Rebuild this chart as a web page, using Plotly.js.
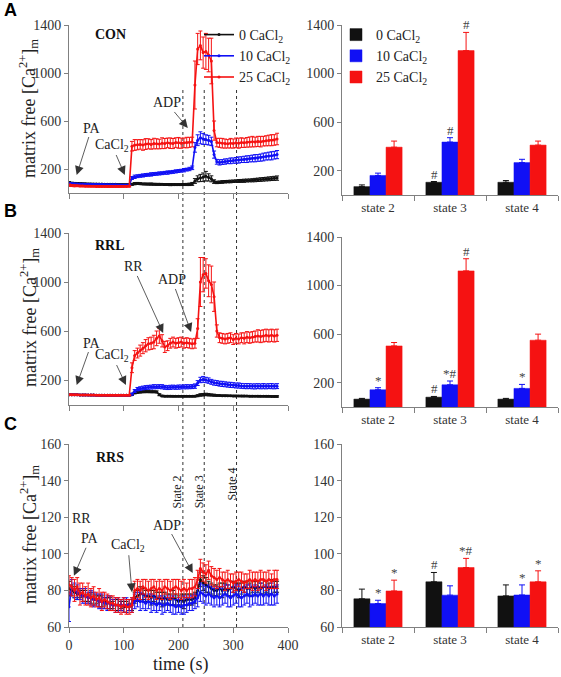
<!DOCTYPE html>
<html><head><meta charset="utf-8">
<script src="https://cdn.plot.ly/plotly-3.0.1.min.js"></script>
<style>html,body{margin:0;padding:0;background:#fff}#chart{width:561px;height:677px}</style>
</head><body><div id="chart"></div>
<script>
// ---------- data ----------
const time = [0,5,10,15,20,25,30,35,40,45,50,55,60,65,70,75,80,85,90,95,100,105,110,115,120,125,130,135,140,145,150,155,160,165,170,175,180,185,190,195,200,205,210,215,220,225,230,235,240,245,250,255,260,265,270,275,280,285,290,295,300,305,310,315,320,325,330,335,340,345,350,355,360,365,370,375,380];

// Panel A (CON)
const aBlack = [85,82,80,80,79,78,77,76,76,75,75,74,74,73,73,72,72,72,71,71,70,70,70,
72,78,80,78,76,75,74,74,73,72,72,72,71,71,70,70,70,70,70,71,71,72,
76,100,118,125,132,140,130,118,95,
88,90,92,94,95,96,98,99,100,101,102,104,105,106,108,110,112,114,116,118,120,122,124];
const aBlackErr = [10,8,8,6,6,6,5,5,5,5,5,5,5,5,5,5,5,5,5,5,5,5,5,
8,9,8,8,7,8,8,9,8,8,8,7,8,8,9,8,8,8,8,8,9,10,
12,20,25,30,35,40,30,25,15,
10,10,11,10,10,11,10,10,12,12,13,12,12,13,14,14,15,15,15,16,16,17,18];
const aBlue = [80,78,76,75,75,74,73,72,72,71,71,70,70,69,69,68,68,68,67,67,66,66,66,
125,135,140,143,146,150,152,155,158,160,163,165,168,170,173,176,180,183,186,190,195,200,
210,380,440,460,450,445,440,430,320,
260,255,258,262,265,268,270,272,275,278,280,282,285,288,290,292,295,300,305,308,310,315,320];
const aBlueErr = [8,6,6,5,5,5,5,5,5,5,5,5,5,5,5,5,5,5,5,5,5,5,5,
12,14,12,12,13,12,12,14,12,12,13,12,12,14,12,12,13,12,12,14,12,14,
15,40,45,50,45,40,40,35,30,
20,22,20,22,20,24,22,24,26,24,26,28,26,28,30,28,30,32,30,32,34,32,34];
const aRed = [65,62,60,60,58,58,57,57,56,56,55,55,55,55,54,54,54,54,54,54,55,55,56,
390,400,402,405,400,408,410,405,412,410,408,415,412,418,415,412,420,418,415,418,420,422,
425,900,1200,1230,1170,1180,1150,1100,520,
420,418,415,412,410,415,412,418,415,420,418,422,425,428,425,430,428,432,435,438,440,442,450];
const aRedErr = [10,8,8,6,6,6,6,6,6,6,6,6,6,6,6,6,6,6,6,6,6,6,6,
40,45,42,40,44,45,42,40,44,42,40,45,42,40,44,42,40,45,42,40,44,42,
40,200,130,120,130,150,140,190,80,
35,38,40,38,35,40,38,40,42,40,38,40,42,44,40,42,44,40,42,44,46,44,48];

// Panel B (RRL)
const bBlack = [80,80,79,79,78,78,78,77,77,77,76,76,76,76,75,75,75,75,75,75,75,75,75,
80,95,100,102,104,105,105,104,104,103,80,70,68,68,68,67,67,67,67,67,67,67,
67,68,72,78,80,82,80,78,76,
74,73,72,72,71,71,70,70,70,69,69,69,68,68,68,68,67,67,67,67,66,66,66];
const bBlackErr = [6,5,5,5,4,5,5,4,5,5,4,5,5,4,5,5,4,5,5,4,5,5,5,
6,8,8,8,8,8,8,8,8,8,8,6,6,6,6,6,6,6,6,6,6,6,
6,6,8,10,10,10,10,8,8,
6,6,5,6,6,5,6,6,5,6,6,5,6,6,5,6,6,5,6,6,5,6,6];
const bBlue = [80,80,79,79,78,78,78,77,77,77,76,76,76,76,75,75,75,75,75,75,75,75,75,
85,110,125,130,135,138,140,142,145,145,146,145,140,138,140,142,140,142,143,144,145,145,
146,150,175,200,205,200,195,185,178,
175,170,168,165,162,160,158,155,155,152,150,150,150,148,148,150,148,150,148,150,150,148,150];
const bBlueErr = [6,5,5,5,4,5,5,4,5,5,4,5,5,4,5,5,4,5,5,4,5,5,5,
8,12,14,15,15,16,16,16,17,16,16,17,16,16,17,16,16,17,16,16,17,16,
16,18,20,22,24,22,22,20,20,
20,20,21,20,20,21,20,20,21,20,20,21,20,20,21,20,20,21,20,20,21,20,20];
const bRed = [80,80,79,79,78,78,78,77,77,77,76,76,76,76,75,75,75,75,75,75,75,75,76,
300,400,420,440,460,480,495,500,510,540,560,520,470,480,500,510,500,505,510,500,505,500,
495,500,620,1000,1060,1070,1010,980,880,
600,545,540,535,540,545,530,540,535,545,540,550,545,550,555,560,555,560,565,560,565,560,565];
const bRedErr = [6,5,5,5,4,5,5,4,5,5,4,5,5,4,5,5,4,5,5,4,5,5,5,
40,40,40,45,45,50,50,50,55,60,60,50,45,40,40,40,40,40,40,40,40,40,
40,40,80,200,140,120,130,150,120,
50,40,40,40,40,40,40,40,40,40,45,45,45,45,45,50,50,50,50,50,50,50,50];

// Panel C (RRS)
const cBlack = [81,80,79,78,78,77,77,76,76,75,75,74,74,74,73,73,72,72,72,72,71,71,71,
72,76,77,78,78,77,77,76,77,76,76,75,76,75,75,76,75,74,75,74,75,75,
75,76,80,86,84,83,82,81,80,
80,81,80,81,80,81,82,81,80,81,82,81,81,82,81,82,81,82,82,81,82,82,82];
const cBlackErr = [4,3,3,3,2,3,3,2,3,3,2,3,3,2,3,3,2,3,3,2,3,3,2,
3,3,3,4,3,3,3,4,3,3,3,4,3,3,3,4,3,3,3,4,3,3,
3,3,3,4,4,4,3,3,3,
3,3,4,3,3,4,3,3,4,3,3,4,3,3,4,3,3,4,3,3,4,3,3];
const cBlue = [71,82,80,79,78,77,77,76,76,75,75,74,74,73,73,73,72,72,72,72,72,72,72,
72,74,75,74,74,73,74,73,73,72,73,72,72,73,72,72,71,72,71,72,72,73,
73,74,76,79,78,77,78,77,76,
77,76,77,78,77,76,77,78,77,76,77,78,77,77,78,77,78,77,78,77,78,77,78];
const cBlueErr = [8,4,4,4,3,4,4,3,4,4,3,4,4,3,4,4,3,4,4,3,4,4,3,
4,4,4,5,4,4,4,5,4,4,4,5,4,4,4,5,4,4,4,5,4,4,
4,4,5,5,5,5,5,5,5,
5,5,5,5,6,5,5,5,6,5,5,5,6,5,5,5,6,5,5,5,6,5,5];
const cRed = [83,82,80,82,78,79,77,78,76,77,75,76,74,75,74,73,73,72,72,71,72,71,71,
72,80,81,80,82,81,80,81,82,80,81,80,82,81,80,81,82,81,80,81,80,81,
81,82,86,92,90,89,91,88,87,
86,87,86,85,86,85,84,85,86,85,84,85,86,85,86,85,86,86,85,86,85,86,86];
const cRedErr = [5,5,6,5,6,5,5,6,5,5,4,5,5,4,4,4,4,4,4,4,4,4,4,
4,5,5,5,4,5,5,5,4,5,5,5,4,5,5,5,4,5,5,5,4,5,
5,5,5,5,5,5,5,5,5,
5,5,4,5,5,4,5,5,4,5,5,4,5,5,4,5,5,4,5,5,4,5,5];

// Bar panels
const states = ['state 2','state 3','state 4'];
const barA_black = [69,105,105], errA_black = [14,6,14], sigA_black = ['','#',''];
const barA_blue  = [161,436,267], errA_blue = [19,36,27], sigA_blue = ['','#',''];
const barA_red   = [394,1189,411], errA_red = [50,150,33], sigA_red = ['','#',''];
const barB_black = [65,81,65], errB_black = [6,6,6], sigB_black = ['','#',''];
const barB_blue  = [142,183,153], errB_blue = [17,31,33], sigB_blue = ['*','*#','*'];
const barB_red   = [503,1121,550], errB_red = [28,100,50], sigB_red = ['','#',''];
const barC_black = [75.4,84.7,77], errC_black = [5.3,5.1,6], sigC_black = ['','#',''];
const barC_blue  = [72.8,77.4,77.5], errC_blue = [1.8,5.1,5.5], sigC_blue = ['*','','*'];
const barC_red   = [79.7,92.5,84.7], errC_red = [5.9,5,6], sigC_red = ['*','*#','*'];

const seriesNames = ['0 CaCl<sub>2</sub>','10 CaCl<sub>2</sub>','25 CaCl<sub>2</sub>'];
const tickBig = [200,600,1000,1400];
const tickSmall = [60,80,100,120,140,160];
const tickTime = [0,100,200,300,400];
const stateLines = [208,247,306];

// ---------- layout helpers ----------
const W = 561, H = 677;
const fx = p => p / W, fy = p => 1 - p / H;
const COLORS = ['#111111','#1010f5','#f51212'];
const SERIF = 'Times New Roman';

const traces = [];
function lineTraces(ax, ay, vals, errs, showLeg) {
  vals.forEach((v, k) => {
    traces.push({
      type: 'scatter', mode: 'lines+markers', x: time, y: v,
      xaxis: ax, yaxis: ay, name: seriesNames[k], showlegend: showLeg, legend: 'legend',
      line: {color: COLORS[k], width: 1.6}, marker: {color: COLORS[k], size: 3},
      error_y: {type: 'data', array: errs[k], color: COLORS[k], thickness: 1, width: 2}
    });
  });
}
function barTraces(ax, ay, vals, errs, showLeg) {
  vals.forEach((v, k) => {
    traces.push({
      type: 'bar', x: states, y: v, xaxis: ax, yaxis: ay, name: seriesNames[k],
      showlegend: showLeg, legend: 'legend2',
      marker: {color: COLORS[k], line: {color: COLORS[k], width: 0.5}},
      error_y: {type: 'data', symmetric: false, array: errs[k], arrayminus: [0,0,0], color: COLORS[k], thickness: 1, width: 3}
    });
  });
}
lineTraces('x', 'y', [aBlack, aBlue, aRed], [aBlackErr, aBlueErr, aRedErr], true);
lineTraces('x3', 'y3', [bBlack, bBlue, bRed], [bBlackErr, bBlueErr, bRedErr], false);
lineTraces('x5', 'y5', [cBlack, cBlue, cRed], [cBlackErr, cBlueErr, cRedErr], false);
barTraces('x2', 'y2', [barA_black, barA_blue, barA_red], [errA_black, errA_blue, errA_red], true);
barTraces('x4', 'y4', [barB_black, barB_blue, barB_red], [errB_black, errB_blue, errB_red], false);
barTraces('x6', 'y6', [barC_black, barC_blue, barC_red], [errC_black, errC_blue, errC_red], false);

function base(size) {
  return {showline: true, linecolor: '#808080', linewidth: 1, ticks: 'outside', ticklen: 4,
    tickcolor: '#808080', showgrid: false, zeroline: false,
    tickfont: {family: SERIF, size: size, color: '#333'}};
}
const xL = [fx(69), fx(288)], xR = [fx(342), fx(558)];
function timeAxis(anchor, dom, labels) {
  return Object.assign(base(14), {domain: dom, anchor: anchor, range: [0, 400], tickvals: tickTime, showticklabels: labels, ticklen: 5});
}
function catAxis(anchor, dom) {
  return Object.assign(base(13), {domain: dom, anchor: anchor, type: 'category', tickson: 'boundaries', range: [-0.5, 2.5], ticklen: 5});
}
function valAxis(anchor, dom, range, tv) {
  return Object.assign(base(14), {domain: dom, anchor: anchor, range: range, tickvals: tv});
}

const annotations = [];
function pxText(x, y, text, opts) {
  annotations.push(Object.assign({xref: 'paper', yref: 'paper', x: fx(x), y: fy(y), text: text, showarrow: false,
    xanchor: 'center', yanchor: 'middle',
    font: {family: SERIF, size: 14, color: '#222'}}, opts || {}));
}
// panel letters
const SANSB = {family: 'Liberation Sans', size: 18, color: '#000'};
pxText(2, 10, '<b>A</b>', {xanchor: 'left', font: SANSB});
pxText(2, 211, '<b>B</b>', {xanchor: 'left', font: SANSB});
pxText(2, 424, '<b>C</b>', {xanchor: 'left', font: SANSB});
// panel titles
pxText(110, 35, '<b>CON</b>', {font: {family: SERIF, size: 14, color: '#111'}});
pxText(110, 245, '<b>RRL</b>', {font: {family: SERIF, size: 14, color: '#111'}});
pxText(110, 457, '<b>RRS</b>', {font: {family: SERIF, size: 14, color: '#111'}});
// y titles
const yTitle = 'matrix free [Ca<sup>2+</sup>]<sub>m</sub>';
[109, 318, 535].forEach(y => pxText(29, y, yTitle, {textangle: -90, font: {family: SERIF, size: 18, color: '#222'}}));
pxText(181, 664, 'time (s)', {font: {family: SERIF, size: 18, color: '#222'}});
pxText(81, 518, 'RR');

// arrows
function arrow(xr, yr, x, y, text, ax, ay) {
  annotations.push({xref: xr, yref: yr, x: x, y: y, text: text, showarrow: true, arrowhead: 2, arrowsize: 2.2,
    arrowwidth: 0.8, arrowcolor: '#333', ax: ax, ay: ay, font: {family: SERIF, size: 14, color: '#222'}});
}
arrow('x', 'y', 14, 150, 'PA', 15, -47);
arrow('x', 'y', 102, 150, 'CaCl<sub>2</sub>', -13, -30);
arrow('x', 'y', 217, 542, 'ADP', -21, -25);
arrow('x3', 'y3', 14, 159, 'PA', 15, -42);
arrow('x3', 'y3', 104, 159, 'CaCl<sub>2</sub>', -14, -30);
arrow('x3', 'y3', 172, 584, 'RR', -30, -66);
arrow('x3', 'y3', 223, 592, 'ADP', -19, -52);
arrow('x5', 'y5', 9, 88, 'PA', 16, -37);
arrow('x5', 'y5', 115, 79, 'CaCl<sub>2</sub>', -4, -47);
arrow('x5', 'y5', 226, 89.5, 'ADP', -26, -48);

// state labels
[['State 2', 197, 134], ['State 3', 237, 134], ['State 4', 298, 138]].forEach(s => {
  annotations.push({xref: 'x5', yref: 'y5', x: s[1], y: s[2], text: s[0], showarrow: false, textangle: -90,
    xanchor: 'center', yanchor: 'middle', font: {family: SERIF, size: 12, color: '#222'}});
});

// significance marks
function sig(xr, yr, vals, errs, marks, shift) {
  marks.forEach((m, i) => {
    if (!m) return;
    annotations.push({xref: xr, yref: yr, x: states[i], y: vals[i] + errs[i], text: m, showarrow: false,
      xanchor: 'center', yanchor: 'bottom', xshift: shift, yshift: -2, font: {family: SERIF, size: 13, color: '#444'}});
  });
}
sig('x2', 'y2', barA_black, errA_black, sigA_black, -16);
sig('x2', 'y2', barA_blue, errA_blue, sigA_blue, 0);
sig('x2', 'y2', barA_red, errA_red, sigA_red, 16);
sig('x4', 'y4', barB_black, errB_black, sigB_black, -16);
sig('x4', 'y4', barB_blue, errB_blue, sigB_blue, 0);
sig('x4', 'y4', barB_red, errB_red, sigB_red, 16);
sig('x6', 'y6', barC_black, errC_black, sigC_black, -16);
sig('x6', 'y6', barC_blue, errC_blue, sigC_blue, 0);
sig('x6', 'y6', barC_red, errC_red, sigC_red, 16);

const shapes = stateLines.map(t => ({type: 'line', xref: 'x', yref: 'paper', x0: t, x1: t,
  y0: fy(627), y1: fy(87), line: {color: '#333', width: 1, dash: 'dot'}, layer: 'below'}));

const layout = {
  width: W, height: H, margin: {l: 0, r: 0, t: 0, b: 0},
  paper_bgcolor: '#fff', plot_bgcolor: '#fff',
  font: {family: SERIF, color: '#333'},
  barmode: 'group', bargap: 0.33, bargroupgap: 0,
  xaxis: timeAxis('y', xL, false),
  yaxis: valAxis('x', [fy(193), fy(25)], [0, 1400], tickBig),
  xaxis2: catAxis('y2', xR),
  yaxis2: valAxis('x2', [fy(195), fy(25)], [0, 1400], tickBig),
  xaxis3: timeAxis('y3', xL, false),
  yaxis3: valAxis('x3', [fy(404.5), fy(233)], [0, 1400], tickBig),
  xaxis4: catAxis('y4', xR),
  yaxis4: valAxis('x4', [fy(407), fy(237)], [0, 1400], tickBig),
  xaxis5: timeAxis('y5', xL, true),
  yaxis5: valAxis('x5', [fy(627), fy(444)], [60, 160], tickSmall),
  xaxis6: catAxis('y6', xR),
  yaxis6: valAxis('x6', [fy(627), fy(444)], [60, 160], tickSmall),
  legend: {x: fx(199), y: fy(19), xanchor: 'left', yanchor: 'top', bgcolor: 'rgba(0,0,0,0)',
    font: {family: SERIF, size: 14, color: '#222'}, itemwidth: 30},
  legend2: {x: fx(336), y: fy(19), xanchor: 'left', yanchor: 'top', bgcolor: 'rgba(0,0,0,0)',
    font: {family: SERIF, size: 14, color: '#222'}, itemwidth: 30},
  annotations: annotations, shapes: shapes
};
Plotly.newPlot('chart', traces, layout, {displayModeBar: false, staticPlot: true});
</script></body></html>
